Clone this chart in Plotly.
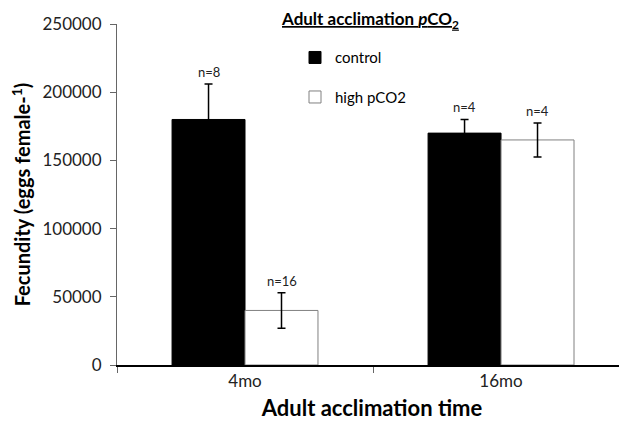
import plotly.graph_objects as go

categories = ["4mo", "16mo"]
control_mean = [180000, 170000]
control_err = [26000, 10000]
high_mean = [40000, 165000]
high_err = [13000, 12500]
control_n = [8, 4]
high_n = [16, 4]
y_ticks = [0, 50000, 100000, 150000, 200000, 250000]
y_ticktext = ["0", "50000", "100000", "150000", "200000", "250000"]

FONT = "Lato"
# page body has an 8px margin; the figure is sized so that it fills the 627x423 window
OFF = 8
L = 117 - OFF
PW = 510
PH = 341

fig = go.Figure()
fig.add_trace(go.Bar(
    x=categories, y=control_mean, name="control", legendgroup="a",
    marker=dict(color="black", line=dict(color="black", width=1)),
    error_y=dict(type="data", array=control_err, color="black", thickness=1.5, width=4),
))
fig.add_trace(go.Bar(
    x=categories, y=high_mean, name="high pCO2", legendgroup="b",
    marker=dict(color="white", line=dict(color="#808080", width=1)),
    error_y=dict(type="data", array=high_err, color="black", thickness=1.5, width=4),
))

annotations = []
for i, cat in enumerate(categories):
    annotations.append(dict(x=cat, y=control_mean[i] + control_err[i], xref="x", yref="y",
                            text=f"n={control_n[i]}", showarrow=False, xshift=-36.5,
                            yanchor="bottom", yshift=2, font=dict(family=FONT, size=13, color="#222")))
    annotations.append(dict(x=cat, y=high_mean[i] + high_err[i], xref="x", yref="y",
                            text=f"n={high_n[i]}", showarrow=False, xshift=36.5,
                            yanchor="bottom", yshift=2, font=dict(family=FONT, size=13, color="#222")))
annotations.append(dict(x=(370 - 117) / PW, y=1.0 + 4 / PH, xref="paper", yref="paper",
                        text="<b><u>Adult acclimation <i>p</i>CO<sub>2</sub></u></b>",
                        showarrow=False, xanchor="center", yanchor="middle",
                        font=dict(family=FONT, size=17, color="black")))

fig.update_layout(
    width=627 - OFF, height=423 - OFF,
    margin=dict(l=L, r=0, t=24 - OFF, b=58),
    paper_bgcolor="white", plot_bgcolor="white",
    barmode="group", bargap=0.43, bargroupgap=0,
    showlegend=True,
    legend=dict(x=(295 - 117) / PW, y=0.97 - 7 / PH, xanchor="left", yanchor="top",
                font=dict(family=FONT, size=15, color="black"),
                tracegroupgap=17, bgcolor="rgba(0,0,0,0)"),
    annotations=annotations,
    xaxis=dict(
        range=[-0.5, 1.492], showline=True, linecolor="black", linewidth=1.5,
        ticks="outside", tickson="boundaries", ticklen=6, tickcolor="#666",
        tickfont=dict(family=FONT, size=17, color="#222"), automargin=False,
        title=dict(text="<b>Adult acclimation time</b>", font=dict(family=FONT, size=22, color="black"), standoff=10),
        showgrid=False, zeroline=False,
    ),
    yaxis=dict(
        range=[0, 250000], tickvals=y_ticks, ticktext=y_ticktext, showline=True, linecolor="#666", linewidth=1,
        ticks="outside", ticklen=6, tickcolor="#666", automargin=False, ticklabelstandoff=5,
        tickfont=dict(family=FONT, size=17, color="#222"),
        title=dict(text="<b>Fecundity (eggs female-<sup>1</sup>)</b>", font=dict(family=FONT, size=20, color="black"), standoff=15),
        showgrid=False, zeroline=False,
    ),
)

fig.write_html("out.html")
